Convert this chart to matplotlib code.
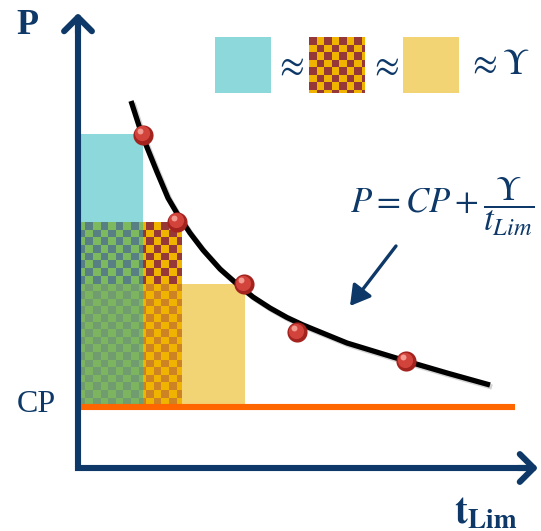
import numpy as np
import matplotlib
matplotlib.use('Agg')
import matplotlib.pyplot as plt
import matplotlib.patheffects as pe
from matplotlib.patches import Rectangle
from matplotlib.transforms import offset_copy

plt.rcParams['mathtext.fontset'] = 'stix'
plt.rcParams['font.family'] = ['Liberation Serif', 'DejaVu Serif']

# measured power vs time to exhaustion
t_pts = [1.30, 1.98, 3.32, 4.38, 6.56]
p_pts = [6.66, 4.92, 3.68, 2.72, 2.14]

# power-duration curve traced along the trials
t_curve = [1.06, 1.28, 1.58, 1.80, 2.00, 2.24, 2.50, 2.84, 3.18, 3.50,
           3.84, 4.18, 4.50, 5.38, 6.56, 7.38, 8.24]
p_curve = [7.34, 6.66, 5.92, 5.40, 5.06, 4.70, 4.36, 3.98, 3.68, 3.42,
           3.20, 3.01, 2.86, 2.50, 2.14, 1.90, 1.66]

cp = 1.22
cp_end = 8.74

# work above CP: width = tLim, height = P - CP
rect_t = [1.30, 2.08, 3.34]
rect_p = [6.66, 4.90, 3.68]

navy = '#0d3868'
cyan = (140, 216, 218)
yellow = (243, 212, 117)

fig = plt.figure(figsize=(5.41, 5.31), dpi=100)
ax = fig.add_axes([0, 0, 1, 1])
ax.axis('off')

# build the overlapping rectangles (checker pattern for the middle one)
res = 0.01
cell = 0.152
tmax, pmax = max(rect_t), max(rect_p)
tt = np.arange(0, tmax, res) + res / 2
pp = np.arange(cp, pmax, res) + res / 2
T, PP = np.meshgrid(tt, pp)
in_c = (T < rect_t[0]) & (PP < rect_p[0])
in_k = (T < rect_t[1]) & (PP < rect_p[1])
in_y = (T < rect_t[2]) & (PP < rect_p[2])
col = np.floor(T / cell).astype(int)
row = np.floor((rect_p[1] - PP) / cell).astype(int)
odd = (col + row) % 2 == 1

img = np.zeros(T.shape + (4,))
def paint(mask, rgb):
    img[mask, :3] = np.array(rgb) / 255
    img[mask, 3] = 1

paint(in_y & ~in_k, yellow)
paint(in_c & ~in_k, cyan)
paint(in_k & ~in_c & ~in_y & ~odd, (240, 180, 0))
paint(in_k & ~in_c & ~in_y & odd, (150, 56, 56))
paint(in_k & ~in_c & in_y & ~odd, (240, 180, 0))
paint(in_k & ~in_c & in_y & odd, (205, 130, 35))
paint(in_k & in_c & ~in_y & ~odd, (125, 185, 95))
paint(in_k & in_c & ~in_y & odd, (88, 128, 132))
paint(in_k & in_c & in_y & ~odd, (125, 180, 96))
paint(in_k & in_c & in_y & odd, (112, 156, 112))

ax.imshow(img, extent=(0, tmax, cp, pmax), origin='lower',
          interpolation='nearest', aspect='auto', zorder=1)

# CP line
ax.plot([0, cp_end], [cp, cp], color='#ff6600', lw=4.4, solid_capstyle='butt', zorder=2)

# axes with arrows
ax.plot([0, 0, 9.05], [8.95, 0, 0], color=navy, lw=4.4,
        solid_joinstyle='miter', solid_capstyle='butt', zorder=3)
for xy, xyt in [((0, 9.1), (0, 8.7)), ((9.2, 0), (8.8, 0))]:
    ax.annotate('', xy=xy, xytext=xyt,
                arrowprops=dict(arrowstyle='->,head_length=0.5,head_width=0.5',
                                lw=4.4, color=navy, mutation_scale=20,
                                shrinkA=0, shrinkB=0), zorder=3)

# curve
ax.plot(t_curve, p_curve, color='black', lw=3.8, solid_capstyle='butt',
        solid_joinstyle='round', zorder=4,
        path_effects=[pe.SimpleLineShadow(offset=(1.5, -1.5), alpha=0.35, shadow_color='gray'),
                      pe.Normal()])

# points drawn as shaded balls
ax.scatter(t_pts, p_pts, s=210, color='#a3231f', zorder=5, linewidths=0)
ax.scatter(t_pts, p_pts, s=120, color='#d2433b', zorder=6, linewidths=0,
           transform=offset_copy(ax.transData, fig, x=-1.5, y=1.5, units='dots'))
ax.scatter(t_pts, p_pts, s=18, color='#f29a90', zorder=7, linewidths=0,
           transform=offset_copy(ax.transData, fig, x=-3, y=4, units='dots'))

ax.set_xlim(-1.56, 9.26)
ax.set_ylim(-1.26, 9.36)

def fx(px):
    return px / 541

def fy(py):
    return 1 - py / 531

# axis labels
fig.text(fx(27), fy(25), 'P', fontsize=26, fontweight='bold', color=navy,
         ha='center', va='center')
fig.text(fx(36), fy(404), 'CP', fontsize=23, color=navy, ha='center', va='center')
fig.text(fx(486), fy(514), r'$\mathbf{t}_{\mathbf{Lim}}$', fontsize=28, color=navy,
         ha='center', va='center')

# model equation and arrow
fig.text(fx(350), fy(213), r'$P = CP + \dfrac{\Upsilon}{t_{Lim}}$', fontsize=25,
         color=navy, ha='left', va='baseline')
ax.annotate('', xy=(350, 531 - 306), xytext=(396, 531 - 246),
            xycoords='figure pixels', textcoords='figure pixels',
            arrowprops=dict(arrowstyle='-|>,head_length=0.6,head_width=0.35',
                            lw=2.4, color=navy, mutation_scale=20,
                            shrinkA=0, shrinkB=0))

# equal-area key
box = 56
fig.add_artist(Rectangle((fx(215), fy(37 + box)), box / 541, box / 531,
                         transform=fig.transFigure, color=np.array(cyan) / 255, lw=0))
fig.add_artist(Rectangle((fx(403), fy(37 + box)), box / 541, box / 531,
                         transform=fig.transFigure, color=np.array(yellow) / 255, lw=0))
kax = fig.add_axes([fx(309), fy(37 + box), box / 541, box / 531])
kax.axis('off')
yy, xx = np.mgrid[0:box, 0:box]
kodd = ((xx // 7.5).astype(int) + (yy // 7.5).astype(int)) % 2 == 0
kimg = np.zeros((box, box, 3))
kimg[kodd] = np.array([150, 56, 56]) / 255
kimg[~kodd] = np.array([240, 180, 0]) / 255
kax.imshow(kimg, interpolation='nearest', aspect='auto')

fig.text(fx(289), fy(67), r'$\approx$', fontsize=26, color=navy, ha='center', va='center')
fig.text(fx(384), fy(67), r'$\approx$', fontsize=26, color=navy, ha='center', va='center')
fig.text(fx(467), fy(66), r'$\approx\Upsilon$', fontsize=26, color=navy, ha='left', va='center')

fig.savefig('out.png', dpi=100)
